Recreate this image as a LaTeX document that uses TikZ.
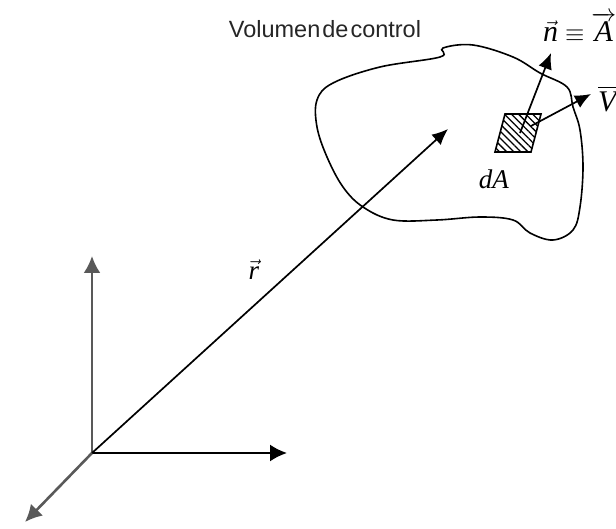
\documentclass[tikz,border=0pt]{standalone}
\usepackage{amsmath}
\usepackage{fontspec}
\setmainfont{Liberation Serif}
\setsansfont{Liberation Sans}
\usetikzlibrary{arrows.meta,patterns.meta}
\begin{document}
\begin{tikzpicture}[x=1pt,y=-1pt,
  arr/.style={line width=1.7pt,-{Latex[length=16pt,width=14pt]}},
  axis/.style={line width=2.6pt,gray!70!black,-{Latex[length=17pt,width=17pt]}},
  lbl/.style={inner sep=0pt}]
\useasboundingbox (0,0) rectangle (616,529);
\coordinate (O) at (92,453);
\coordinate (Y) at (92,256);
\coordinate (X) at (287,453);
\coordinate (Z) at (25,522);
\coordinate (R) at (448,129);
\draw[axis] (O) -- (Y);
\draw[axis,black,line width=2pt] (O) -- (X);
\draw[axis] (O) -- (Z);
\draw[arr] (O) -- (R);
% control volume
\draw[line width=1.6pt] plot[smooth cycle,tension=0.6] coordinates {
 (317,100) (333,83) (380,67) (440,57) (443,48) (473,45) (513,57) (540,73)
 (567,87) (573,107) (580,130) (583,167) (580,207) (573,230) (553,240)
 (530,233) (513,220) (480,217) (437,220) (393,220) (363,207) (343,187)
 (327,157) (317,127)};
% dA element
\draw[line width=1.6pt,pattern={Lines[angle=-45,distance=5pt,line width=1.3pt]}] (505,114) -- (541,114) -- (531,152) -- (495,152) -- cycle;
\coordinate (Nb) at (520,133);
\coordinate (Nt) at (551,53);
\coordinate (Vb) at (531,126);
\coordinate (Vt) at (591,94);
\draw[arr] (Nb) -- (Nt);
\draw[arr] (Vb) -- (Vt);
\node[lbl,font=\sffamily\fontsize{23.5}{27}\selectfont,gray!30!black] (vc) at (325,29) {Volumen\kern2pt de\kern2pt control};
\node[lbl,font=\fontsize{30}{34}\selectfont,anchor=west] (nA) at (543,27) {$\vec{\textit{n}}\equiv\overrightarrow{\textit{A}}$};
\node[lbl,font=\fontsize{30}{34}\selectfont,anchor=west] (V) at (598,99) {$\overline{\textit{V}}$};
\node[lbl,font=\fontsize{27}{31}\selectfont] (dA) at (494,179) {\textit{dA}};
\node[lbl,font=\fontsize{27}{31}\selectfont] (r) at (254,270) {$\vec{\textit{r}}$};
\end{tikzpicture}
\end{document}
